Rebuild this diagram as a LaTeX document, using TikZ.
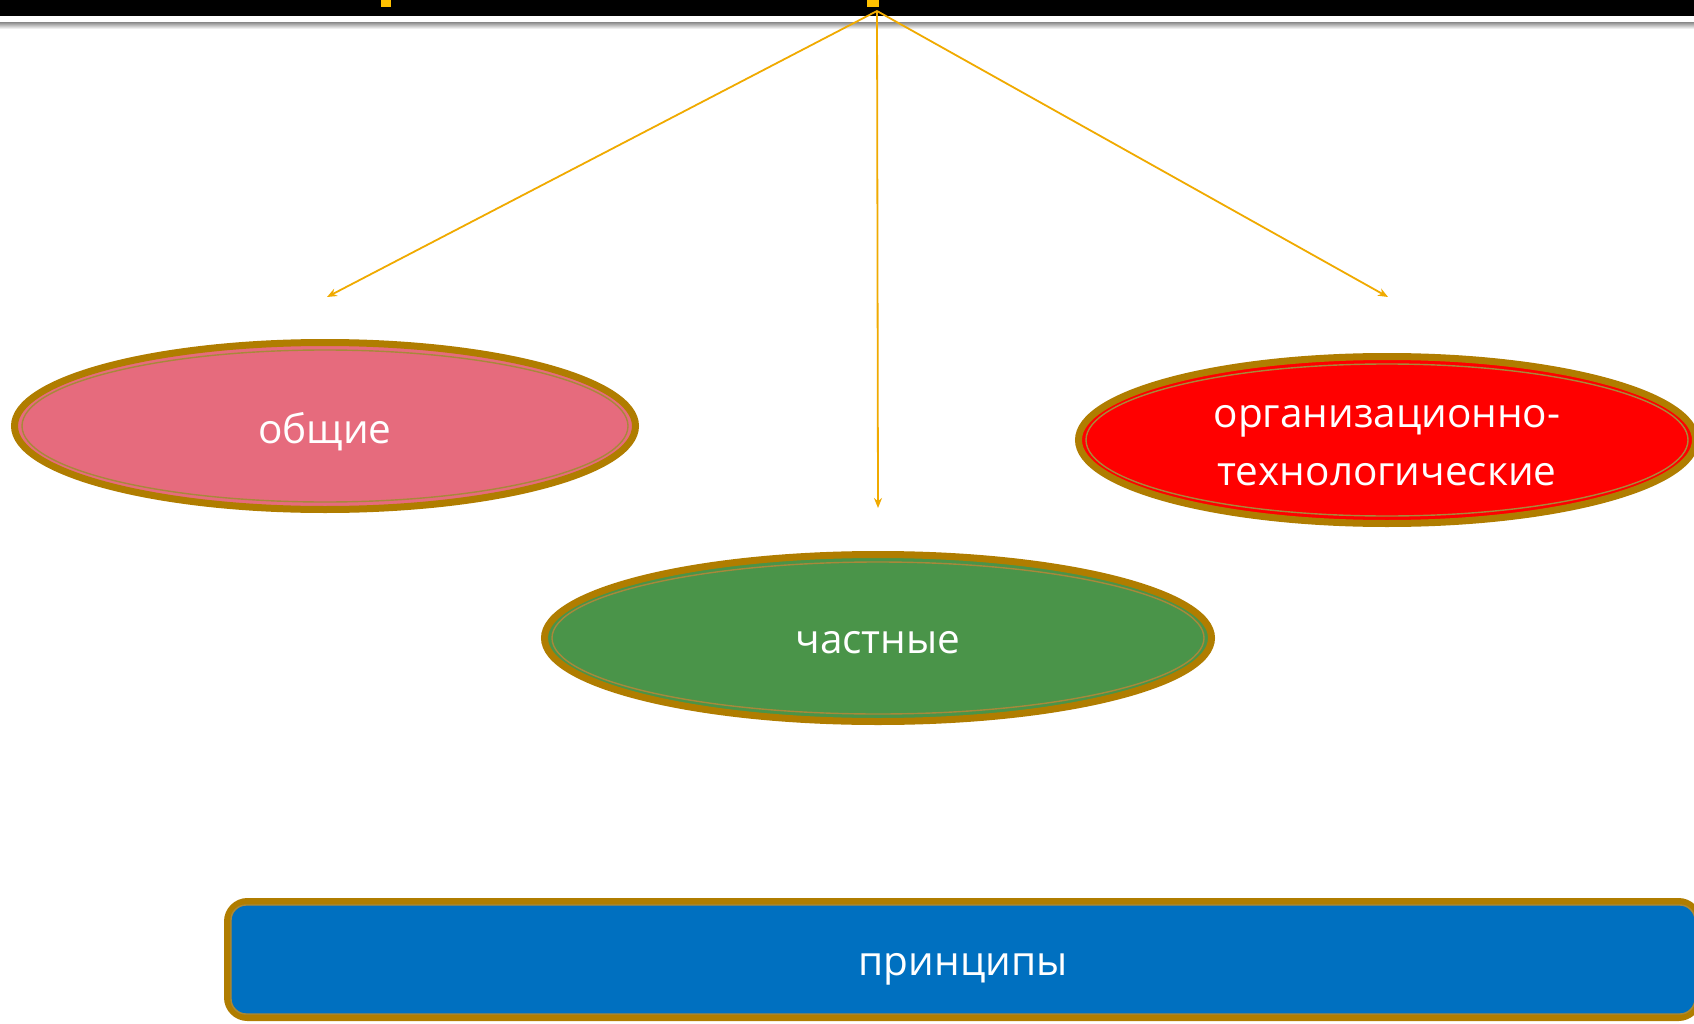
\documentclass[tikz,border=0pt]{standalone}
\usepackage{fontspec}
\setmainfont{Open Sans}
\usetikzlibrary{shapes.geometric,arrows.meta}
\definecolor{rim}{HTML}{B07D00}
\definecolor{rimin}{HTML}{A8883A}
\definecolor{pinkfill}{HTML}{E66B7D}
\definecolor{greenfill}{HTML}{4A9449}
\definecolor{redfill}{HTML}{FF0000}
\definecolor{bluefill}{HTML}{0070C0}
\definecolor{arrowcol}{HTML}{F0AA00}
\definecolor{markcol}{HTML}{FFC000}
\tikzset{
  oval/.style={ellipse, draw=rim, line width=7pt, inner sep=0pt, minimum height=167pt},
  lbl/.style={text=white, font=\fontsize{40.5}{58}\selectfont, align=center, inner sep=0pt},
  innerrim/.style={draw=rimin, line width=1.4pt},
  conn/.style={draw=arrowcol, line width=1.8pt, -{Stealth[length=10pt,width=8pt]}},
  bar/.style={rounded corners=20pt, draw=rim, line width=7pt, inner sep=0pt}
}
\begin{document}
\begin{tikzpicture}[x=1pt,y=-1pt]
\useasboundingbox (0,0) rectangle (1694,1024);
\fill[white] (0,0) rectangle (1694,1024);
% top bar
\fill[black] (0,0) rectangle (1694,16);
\shade[top color=gray!80, bottom color=white] (0,23) rectangle (1694,29);
\fill[markcol] (381,0) rectangle (391,7);
\fill[markcol] (867,0) rectangle (879,7);
% nodes
\node[oval, fill=pinkfill, minimum width=621pt] (obsch) at (325,426) {};
\draw[innerrim] (obsch.center) ellipse [x radius=303pt, y radius=76pt];
\node[lbl] (obsch-t) at ([yshift=-6pt]obsch.center) {общие};
\node[oval, fill=redfill, minimum width=617pt] (org) at (1387,440) {};
\draw[innerrim] (org.center) ellipse [x radius=301pt, y radius=76pt];
\node[lbl] (org-t) at ([yshift=-6pt]org.center) {организационно-\\технологические};
\node[oval, fill=greenfill, minimum width=667pt] (chast) at (878,638) {};
\draw[innerrim] (chast.center) ellipse [x radius=326pt, y radius=76pt];
\node[lbl] (chast-t) at ([yshift=-5pt]chast.center) {частные};
\node[bar, fill=bluefill, minimum width=1471pt, minimum height=116pt] (princ) at (963,959.5) {};
\draw[innerrim, rounded corners=15pt] ([xshift=7pt,yshift=-7pt]princ.north west) rectangle ([xshift=-7pt,yshift=7pt]princ.south east);
\node[lbl] (princ-t) at ([yshift=-10pt]princ.center) {принципы};
% connectors
\coordinate (src) at (877,11);
\coordinate (e1) at (327,297);
\coordinate (e2) at (878,508);
\coordinate (e3) at (1388,297);
\draw[conn] (src) -- (e1);
\draw[conn] (src) -- (e2);
\draw[conn] (src) -- (e3);
\end{tikzpicture}
\end{document}
